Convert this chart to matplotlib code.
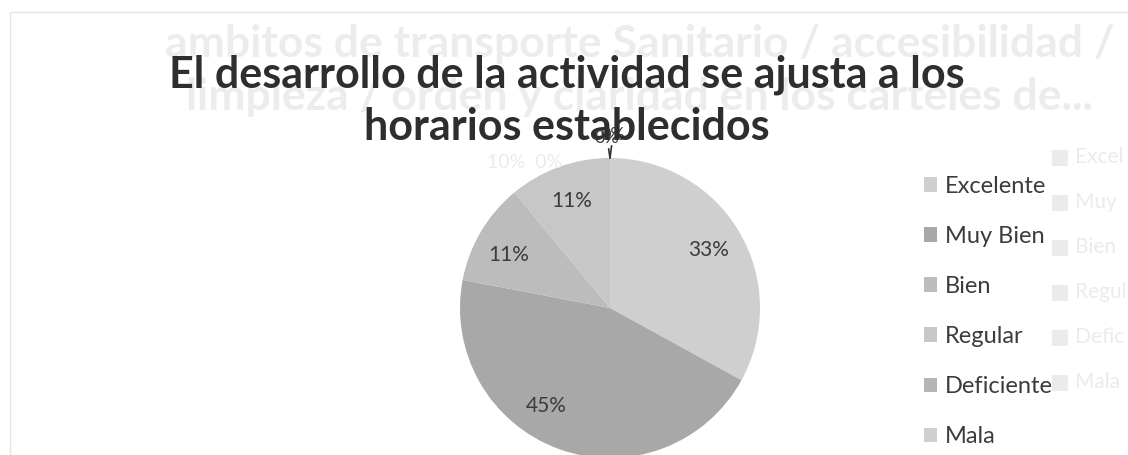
import math
import matplotlib.pyplot as plt
from matplotlib.patches import Rectangle

categories = ['Excelente', 'Muy Bien', 'Bien', 'Regular', 'Deficiente', 'Mala']
values = [33, 45, 11, 11, 0, 0]
colours = ['#cfcfcf', '#a8a8a8', '#bcbcbc', '#c7c7c7', '#b5b5b5', '#cfcfcf']

title = 'El desarrollo de la actividad se ajusta a los\nhorarios establecidos'

# page behind the chart shows through the scan
ghost_title = ['ambitos de transporte Sanitario / accesibilidad /',
               'limpieza / orden y claridad en los carteles de...']
ghost_legend = ['Excel', 'Muy', 'Bien', 'Regul', 'Defic', 'Mala']

plt.rcParams['font.family'] = ['Lato', 'DejaVu Sans']

W, H = 1128, 455
fig = plt.figure(figsize=(W / 100, H / 100), dpi=100)
fig.patch.set_facecolor('white')

def fx(px):
    return px / W

def fy(py):
    return 1 - py / H

# faint chart border
fig.patches.append(Rectangle((fx(10), fy(460)), fx(1130) - fx(10), fy(12) - fy(460),
                             transform=fig.transFigure, fill=False,
                             edgecolor='#e4e4e4', lw=1))

for i, line in enumerate(ghost_title):
    fig.text(fx(640), fy(44 + i * 53), line, ha='center', va='center',
             fontsize=32, fontweight='bold', color='#ececec')
for i, lab in enumerate(ghost_legend):
    fig.text(fx(1050), fy(157 + i * 45), '■ ' + lab, ha='left', va='center',
             fontsize=15, color='#ebebeb')
fig.text(fx(525), fy(162), '10%  0%', ha='center', va='center', fontsize=14, color='#ebebeb')

fig.text(fx(567), fy(101), title, ha='center', va='center', fontsize=31,
         fontweight='bold', color='#2e2e2e', linespacing=1.35)

# pie: centre (610, 308), radius 150 px
ax = fig.add_axes([fx(460), fy(458), fx(300), 300 / H])
wedges, _ = ax.pie(values, colors=colours, startangle=90, counterclock=False,
                   wedgeprops=dict(linewidth=0))
ax.set_xlim(-1, 1)
ax.set_ylim(-1, 1)
ax.set_aspect('auto')

# Excel's best-fit nudges the big slice's label round a little
nudge = [0, -13, 3, 0, 0, 0]
for w, v, d in zip(wedges, values, nudge):
    mid = math.radians((w.theta1 + w.theta2) / 2 + d)
    if v > 0:
        r = 0.78 if v > 40 else 0.76
        ax.text(r * math.cos(mid), r * math.sin(mid), '%d%%' % v, ha='center', va='center',
                fontsize=15, color='#3c3c3c')
zero = [w for w, v in zip(wedges, values) if v == 0]
for k, w in enumerate(zero):
    mid = math.radians(w.theta1)
    ax.annotate('0%', xy=(math.cos(mid), math.sin(mid)),
                xytext=(math.cos(mid) - 0.02 + 0.04 * k, 1.08 + 0.02 * k),
                ha='center', va='bottom', fontsize=13, color='#3c3c3c',
                arrowprops=dict(arrowstyle='-', color='#333333', lw=1.2,
                                shrinkA=0, shrinkB=0),
                annotation_clip=False)

leg = fig.legend(wedges, categories, loc='upper left', bbox_to_anchor=(fx(912), fy(164)),
                 frameon=False, fontsize=17, labelspacing=1.23, handlelength=0.55,
                 handleheight=0.55, handletextpad=0.35, labelcolor='#3c3c3c',
                 borderpad=0)

fig.savefig('out.png', dpi=100, facecolor='white')
